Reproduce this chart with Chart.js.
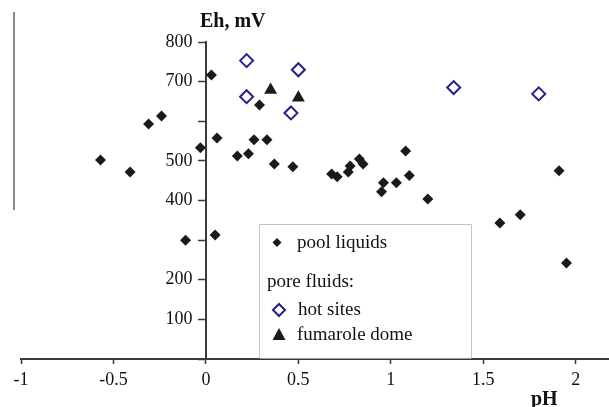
<!DOCTYPE html>
<html>
<head>
<meta charset="utf-8">
<script src="https://cdn.jsdelivr.net/npm/chart.js@4/dist/chart.umd.min.js"></script>
<style>
html, body { margin: 0; padding: 0; background: #fff; }
#wrap { position: relative; width: 609px; height: 407px; }
</style>
</head>
<body>
<div id="wrap"><canvas id="chart" width="609" height="407"></canvas></div>
<script>
// pool liquids
const pool_pH = [-0.57, -0.41, -0.31, -0.24, -0.03, 0.03, 0.06, 0.17, 0.23, 0.26, 0.29, 0.33, 0.37, 0.47,
	-0.11, 0.05, 0.68, 0.71, 0.78, 0.77, 0.83, 0.85, 0.96, 0.95, 1.03, 1.08, 1.10, 1.20, 1.91, 1.59, 1.70, 1.95];
const pool_Eh = [502, 472, 593, 613, 533, 717, 558, 512, 518, 553, 641, 553, 492, 485,
	300, 313, 467, 460, 487, 472, 505, 492, 445, 422, 445, 525, 463, 404, 475, 343, 364, 242];

// pore fluids: hot sites
const hot_pH = [0.22, 0.22, 0.50, 0.46, 1.34, 1.80];
const hot_Eh = [753, 662, 730, 621, 685, 669];

// pore fluids: fumarole dome
const dome_pH = [0.35, 0.50];
const dome_Eh = [679, 659];

// y labels that are missing in the figure
const y_hidden_labels = [0, 300, 600];

const toPoints = (xs, ys) => xs.map((x, i) => ({ x: x, y: ys[i] }));

const serif = "'Liberation Serif', 'Times New Roman', serif";
const axisColor = "#3a3a3a";

// extra drawing: axis titles, legend box, stray line
const extras = {
	id: "extras",
	afterDraw(chart) {
		const ctx = chart.ctx;
		ctx.save();

		// stray grey line on the left
		ctx.strokeStyle = "#8a8a8a";
		ctx.lineWidth = 2;
		ctx.beginPath();
		ctx.moveTo(14, 12);
		ctx.lineTo(14, 210);
		ctx.stroke();

		// axis titles
		ctx.fillStyle = "#111";
		ctx.font = "bold 20px " + serif;
		ctx.textBaseline = "alphabetic";
		ctx.textAlign = "left";
		ctx.fillText("Eh, mV", 200, 27);
		ctx.fillText("pH", 531, 405);

		// legend box
		const bottom = chart.scales.y.getPixelForValue(0);
		ctx.fillStyle = "#fff";
		ctx.fillRect(259.5, 224.5, 212, bottom - 225);
		ctx.strokeStyle = "#c4c4c4";
		ctx.lineWidth = 1;
		ctx.beginPath();
		ctx.moveTo(259.5, bottom - 1);
		ctx.lineTo(259.5, 224.5);
		ctx.lineTo(471.5, 224.5);
		ctx.lineTo(471.5, bottom - 1);
		ctx.stroke();

		ctx.font = "19px " + serif;
		ctx.fillStyle = "#111";
		ctx.fillText("pool liquids", 297, 248);
		ctx.fillText("pore fluids:", 267, 287);
		ctx.fillText("hot sites", 298, 315);
		ctx.fillText("fumarole dome", 297, 340);

		// legend markers
		ctx.fillStyle = "#1a1a1a";
		ctx.beginPath();
		ctx.moveTo(277 - 4.5, 242.5);
		ctx.lineTo(277, 242.5 - 4.5);
		ctx.lineTo(277 + 4.5, 242.5);
		ctx.lineTo(277, 242.5 + 4.5);
		ctx.closePath();
		ctx.fill();

		ctx.strokeStyle = "#25218a";
		ctx.lineWidth = 2;
		ctx.beginPath();
		ctx.moveTo(279 - 6, 310);
		ctx.lineTo(279, 310 - 6);
		ctx.lineTo(279 + 6, 310);
		ctx.lineTo(279, 310 + 6);
		ctx.closePath();
		ctx.stroke();

		ctx.fillStyle = "#1a1a1a";
		ctx.beginPath();
		ctx.moveTo(279, 328);
		ctx.lineTo(285.5, 340);
		ctx.lineTo(272.5, 340);
		ctx.closePath();
		ctx.fill();

		ctx.restore();
	},
};

new Chart(document.getElementById("chart"), {
	type: "scatter",
	data: {
		datasets: [
			{
				label: "pool liquids",
				data: toPoints(pool_pH, pool_Eh),
				pointStyle: "rectRot",
				pointRadius: 5.5,
				backgroundColor: "#1a1a1a",
				borderColor: "#1a1a1a",
				borderWidth: 0,
			},
			{
				label: "hot sites",
				data: toPoints(hot_pH, hot_Eh),
				pointStyle: "rectRot",
				pointRadius: 6.5,
				backgroundColor: "#fff",
				borderColor: "#25218a",
				borderWidth: 2,
			},
			{
				label: "fumarole dome",
				data: toPoints(dome_pH, dome_Eh),
				pointStyle: "triangle",
				pointRadius: 7.5,
				backgroundColor: "#1a1a1a",
				borderColor: "#1a1a1a",
				borderWidth: 0,
			},
		],
	},
	options: {
		responsive: false,
		animation: false,
		devicePixelRatio: 1,
		layout: { autoPadding: false, padding: { left: 21, top: 42, right: 0, bottom: 11.4 } },
		plugins: {
			legend: { display: false },
			tooltip: { enabled: false },
		},
		scales: {
			x: {
				type: "linear",
				min: -1,
				max: 2.18,
				afterFit: (scale) => {
					scale.paddingRight = 0;
					scale.paddingLeft = 0;
				},
				ticks: {
					stepSize: 0.5,
					includeBounds: false,
					font: { family: serif, size: 18 },
					color: "#111",
					padding: 5,
					maxRotation: 0,
					callback: (v) => String(+v.toFixed(2)),
				},
				grid: {
					drawOnChartArea: false,
					drawTicks: true,
					tickLength: 5,
					tickWidth: 1.5,
					tickColor: axisColor,
				},
				border: { color: axisColor, width: 2 },
			},
			y: {
				type: "linear",
				min: 0,
				max: 800,
				position: { x: 0 },
				ticks: {
					stepSize: 100,
					font: { family: serif, size: 18 },
					color: "#111",
					// labels sit at the axis line, pad them off it with spaces
					callback: (v) => (y_hidden_labels.includes(v) ? "" : v + "   "),
				},
				grid: {
					drawOnChartArea: false,
					drawTicks: true,
					tickLength: 7,
					tickWidth: 1.5,
					tickColor: axisColor,
				},
				border: { color: axisColor, width: 2 },
			},
		},
	},
	plugins: [extras],
});
</script>
</body>
</html>
